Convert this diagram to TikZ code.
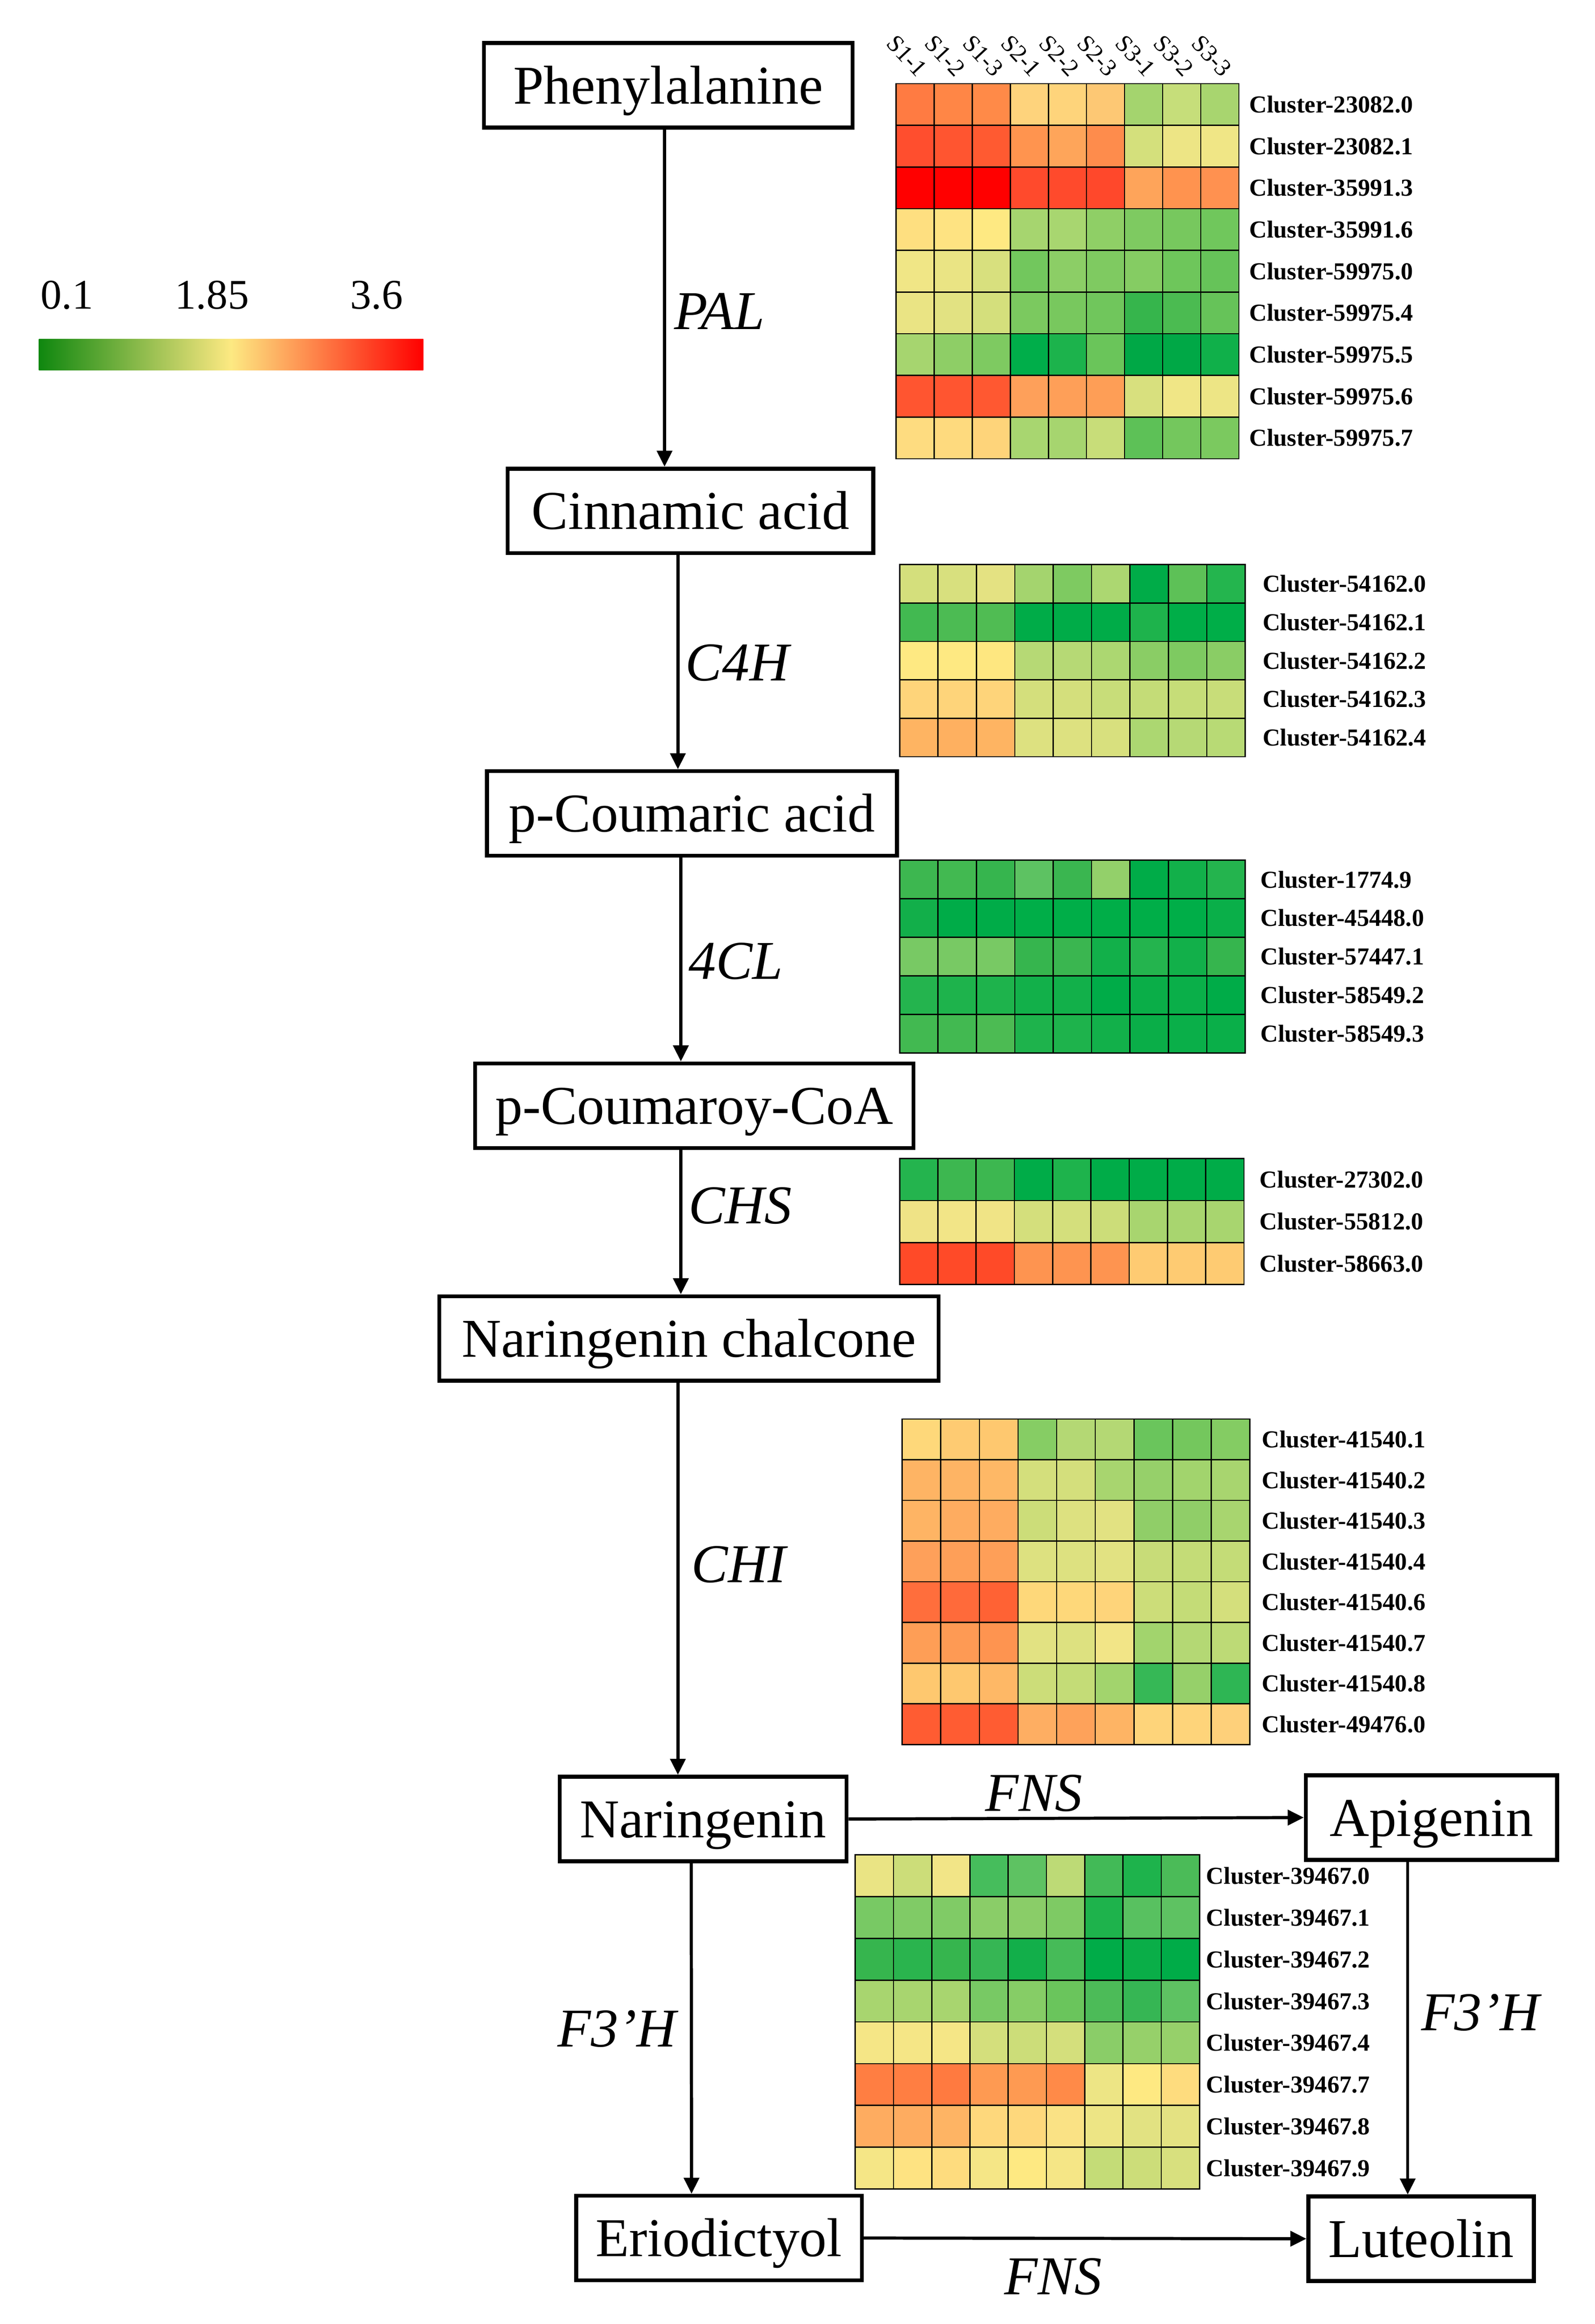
\documentclass[tikz,border=0pt]{standalone}
\usepackage{fontspec}
\setmainfont{Liberation Serif}
\usepackage{xcolor}
\usepackage{tikz}
\usetikzlibrary{arrows.meta, positioning, calc}

\definecolor{cbgreen}{HTML}{0F870F}
\definecolor{cbyellow}{HTML}{FDE982}
\definecolor{cbred}{HTML}{FF0000}
\pgfdeclarehorizontalshading{heatbar}{100bp}{color(0bp)=(cbgreen); color(25bp)=(cbgreen); color(50bp)=(cbyellow); color(75bp)=(cbred); color(100bp)=(cbred)}

\newcommand{\upx}{0.33358mm}
% one row of a heat map: row number, cluster id, cell colours
\newcommand{\heatrow}[3]{%
	\foreach \hx [count=\j from 0] in {#3} {%
		\edef\setcell{\noexpand\definecolor{cellc}{HTML}{\hx}}\setcell
		\draw[cell, fill=cellc] ({\hmx+\j*\hmw},{\hmy+#1*\hmh}) rectangle ++(\hmw,\hmh);
	}%
	\node[cluster] (\hmname-#1) at ({\hmlab},{\hmy+(#1+0.5)*\hmh}) {Cluster-#2};
}

\tikzset{
	compound/.style={draw, line width=2.5pt, minimum height=57*\upx, inner sep=0pt,
		font=\fontsize{35}{40}\selectfont, text height=23.6pt, text depth=0pt},
	enzyme/.style={font=\fontsize{35}{40}\selectfont\itshape, inner sep=0pt},
	cluster/.style={font=\fontsize{15.6}{18}\selectfont\bfseries, anchor=west, inner sep=0pt},
	sample/.style={font=\fontsize{15.5}{17}\selectfont, rotate=-47, anchor=south east, inner sep=0pt},
	barlabel/.style={font=\fontsize{27}{30}\selectfont, anchor=base, inner sep=0pt},
	cell/.style={draw=black, line width=0.8pt},
	flow/.style={->, line width=2pt},
	>={Triangle[length=3.6mm, width=3.4mm]}
}

\begin{document}
\begin{tikzpicture}[x=0.33358mm, y=-0.33358mm]
		\useasboundingbox (0,0) rectangle (1075,1567);

		% colour scale
		\shade[shading=heatbar] (26.2,228.6) rectangle (285.4,249.6);
		\node[barlabel] (low) at (45.1,208.3) {0.1};
		\node[barlabel] (mid) at (142.9,208.3) {1.85};
		\node[barlabel] (high) at (253.8,208.3) {3.6};

		% compounds
		\node[compound, minimum width=248.5*\upx] (Phenylalanine) at (450.5,57.5) {Phenylalanine};
		\node[compound, minimum width=246.5*\upx] (Cinnamic acid) at (465.5,344.5) {Cinnamic acid};
		\node[compound, minimum width=276.5*\upx] (p-Coumaric acid) at (466.5,548.5) {p-Coumaric acid};
		\node[compound, minimum width=295.5*\upx] (p-Coumaroy-CoA) at (468,745.5) {p-Coumaroy-CoA};
		\node[compound, minimum width=336.5*\upx] (Naringenin chalcone) at (464.5,902.5) {Naringenin chalcone};
		\node[compound, minimum width=193.5*\upx] (Naringenin) at (474,1226.5) {Naringenin};
		\node[compound, minimum width=169.5*\upx] (Apigenin) at (965,1225.5) {Apigenin};
		\node[compound, minimum width=192.5*\upx] (Eriodictyol) at (484.7,1509) {Eriodictyol};
		\node[compound, minimum width=152*\upx] (Luteolin) at (958,1509.5) {Luteolin};

		% enzymes
		\node[enzyme] (PAL) at (485,210) {PAL};
		\node[enzyme] (C4H) at (497,447) {C4H};
		\node[enzyme] (4CL) at (496,648) {4CL};
		\node[enzyme] (CHS) at (499,813) {CHS};
		\node[enzyme] (CHI) at (498,1055) {CHI};
		\node[enzyme] (FNS top) at (697,1209) {FNS};
		\node[enzyme] (F3H left) at (416,1368) {F3’H};
		\node[enzyme] (F3H right) at (998,1357) {F3’H};
		\node[enzyme] (FNS bottom) at (710,1535) {FNS};

		\draw[flow] ([xshift=-2.5*\upx]Phenylalanine.south) to ([xshift=-17.5*\upx]Cinnamic acid.north);
		\draw[flow] ([xshift=-8.5*\upx]Cinnamic acid.south) to ([xshift=-9.5*\upx]p-Coumaric acid.north);
		\draw[flow] ([xshift=-7.5*\upx]p-Coumaric acid.south) to ([xshift=-9*\upx]p-Coumaroy-CoA.north);
		\draw[flow] ([xshift=-9*\upx]p-Coumaroy-CoA.south) to ([xshift=-5.5*\upx]Naringenin chalcone.north);
		\draw[flow] ([xshift=-7.5*\upx]Naringenin chalcone.south) to ([xshift=-17*\upx]Naringenin.north);
		\draw[flow] (Naringenin.east) to (Apigenin.west);
		\draw[flow] ([xshift=-8*\upx]Naringenin.south) to ([xshift=-18.5*\upx]Eriodictyol.north);
		\draw[flow] ([xshift=-16*\upx]Apigenin.south) to ([xshift=-9*\upx]Luteolin.north);
		\draw[flow] (Eriodictyol.east) to (Luteolin.west);

		% samples
		\foreach \s [count=\k from 0] in {S1-1,S1-2,S1-3,S2-1,S2-2,S2-3,S3-1,S3-2,S3-3}
			\node[sample] (s\k) at ({604+(\k+0.5)*25.69+1},53) {\s};

		% PAL
		\def\hmname{pal}\def\hmx{604}\def\hmy{56.4}\def\hmw{25.69}\def\hmh{28.1}\def\hmlab{842}
		\heatrow{0}{23082.0}{FF7B42,FF8646,FF8A48,FED37C,FED47B,FDC874,A4D46E,C6DE7A,A8D56F}
		\heatrow{1}{23082.1}{FF4E2E,FF5530,FF5A31,FF944F,FEA55A,FE8C4C,D4E07C,EDE585,F0E686}
		\heatrow{2}{35991.3}{FF0000,FF0000,FF0000,FF4A2C,FF4A2C,FF482B,FEA45A,FF934F,FF9150}
		\heatrow{3}{35991.6}{FEDF80,FEE382,FEE982,A6D56F,A8D670,8FCF66,7ECA61,77C85E,70C75C}
		\heatrow{4}{59975.0}{F0E686,EAE484,D8E07E,72C75D,8CCE66,7FCA61,85CC63,6EC65B,66C359}
		\heatrow{5}{59975.4}{EAE484,E2E282,D4DF7C,7BC95F,78C85E,70C65C,36B54C,4BBB51,66C359}
		\heatrow{6}{59975.5}{A6D56F,8ECE66,7ECA61,00AE4A,1CB34C,6AC55A,00A846,00A846,10B04A}
		\heatrow{7}{59975.6}{FF5530,FF5530,FF5831,FEA05A,FE9F58,FE9E56,D8E07E,F0E686,EDE585}
		\heatrow{8}{59975.7}{FEDC80,FEDA7E,FED47A,A8D670,A6D56F,C8DD79,5DC157,74C75D,7BC95F}

		% C4H
		\def\hmname{c4h}\def\hmx{606.5}\def\hmy{380.7}\def\hmw{25.88}\def\hmh{25.9}\def\hmlab{851}
		\heatrow{0}{54162.0}{D4DF7C,D8E07E,E4E282,A4D46E,7ECA61,ACD771,00AC48,5DC157,24B54E}
		\heatrow{1}{54162.1}{42B951,4CBB53,50BC53,00AC48,00AC48,00AC48,1EB34C,00AE48,00AE48}
		\heatrow{2}{54162.2}{FEE982,FEE982,FEE780,B6D975,B6D975,ACD771,8ACD65,7ECA61,8ACD65}
		\heatrow{3}{54162.3}{FED47A,FED47A,FED47A,D4DF7C,D4DF7C,C8DD79,C4DC77,C6DD78,C8DD79}
		\heatrow{4}{54162.4}{FEB462,FEB060,FEB462,DDE180,DDE180,D8E07E,ACD771,B6D975,B8DA75}

		% 4CL
		\def\hmname{fcl}\def\hmx{606.5}\def\hmy{580}\def\hmw{25.88}\def\hmh{26}\def\hmlab{849.5}
		\heatrow{0}{1774.9}{3DB750,42B951,36B54E,5DC262,3AB650,93D06A,00AC48,12B04A,24B44E}
		\heatrow{1}{45448.0}{12AF4A,00AC48,00AC48,00AE48,00AE48,00AE48,00AE48,00AE48,0AAF49}
		\heatrow{2}{57447.1}{78C964,78C964,78C964,36B54E,3AB650,12B04A,24B44E,12B04A,36B54E}
		\heatrow{3}{58549.2}{24B44E,1EB34C,1EB34C,12B04A,12B04A,00AC48,0AAE48,0AAF49,00AC48}
		\heatrow{4}{58549.3}{42B951,42B951,4CBB53,1EB34C,1EB34C,12B04A,0AAE48,0AAF49,0AAF49}

		% CHS
		\def\hmname{chs}\def\hmx{606.5}\def\hmy{781.2}\def\hmw{25.79}\def\hmh{28.3}\def\hmlab{849}
		\heatrow{0}{27302.0}{24B44E,3DB750,3DB750,00AC48,1EB34C,00AC48,00AC48,00AC48,00AC48}
		\heatrow{1}{55812.0}{EFE386,F2E587,F0E486,D4DF7C,D4DF7C,CCDD79,A8D56F,A8D56F,A8D56F}
		\heatrow{2}{58663.0}{FF4A28,FF4A28,FF4A28,FE9450,FE9450,FE9450,FECB72,FECB72,FECB72}

		% CHI
		\def\hmname{chi}\def\hmx{608.2}\def\hmy{956.8}\def\hmw{26.04}\def\hmh{27.43}\def\hmlab{850.5}
		\heatrow{0}{41540.1}{FED87A,FECB72,FEC86F,86CD64,B4D874,B4D874,6AC55C,74C75D,84CC63}
		\heatrow{1}{41540.2}{FEB464,FEB464,FEB866,D4DF7C,D4DF7C,A8D56F,96D06A,A2D46D,A8D56F}
		\heatrow{2}{41540.3}{FEB464,FEAC60,FEAC60,CCDD79,DDE180,E2E282,90CE68,90CE68,A8D56F}
		\heatrow{3}{41540.4}{FEA05A,FE9F58,FE9F58,DDE180,DDE180,E2E282,C8DC78,C4DC77,C4DC77}
		\heatrow{4}{41540.6}{FF6E3C,FF6A3A,FF6234,FED87A,FED87A,FED47A,CCDD79,C4DC77,D4DF7C}
		\heatrow{5}{41540.7}{FE9E56,FE9A54,FE9450,E2E282,DDE180,F2E587,A2D46D,B4D874,BDDA76}
		\heatrow{6}{41540.8}{FEC86F,FEC86F,FEB866,CCDD79,C4DC77,A2D46D,36B856,96D06A,2EB654}
		\heatrow{7}{49476.0}{FF5C32,FF5C32,FF5C32,FEAE62,FEA25A,FEB464,FED47A,FED47A,FED07A}

		% F3'H
		\def\hmname{fth}\def\hmx{576.5}\def\hmy{1250.7}\def\hmw{25.8}\def\hmh{28.15}\def\hmlab{813}
		\heatrow{0}{39467.0}{EAE484,CCDD79,F2E587,46BD5C,5EC262,BDDA76,42BA57,1EB34C,4BBB58}
		\heatrow{1}{39467.1}{78C964,80CB66,80CB66,8ACD68,8ACD68,7ECA64,1EB34C,58C160,5EC262}
		\heatrow{2}{39467.2}{36B54E,2AB44E,36B54E,36B654,12AF4A,46BB58,00AC48,0AAE48,00AC48}
		\heatrow{3}{39467.3}{A8D56F,A8D56F,A8D56F,78C964,86CD66,6AC55C,4CBB58,36B654,5EC262}
		\heatrow{4}{39467.4}{F5E686,F5E686,F5E686,D4DF7C,CCDD79,D4DF7C,8ACD68,96D06A,96D06A}
		\heatrow{5}{39467.7}{FF7E42,FF7E42,FF7A40,FE9A52,FE9A52,FF8A48,EDE585,FEE982,FEDC7E}
		\heatrow{6}{39467.8}{FEAC60,FEAC60,FEB464,FED87C,FED87C,FAE285,EDE585,E2E282,E4E282}
		\heatrow{7}{39467.9}{F5E686,FEE382,FEDC7E,F5E686,FEE982,F5E686,C4DC77,CCDD79,D8E07E}
	\end{tikzpicture}
\end{document}
